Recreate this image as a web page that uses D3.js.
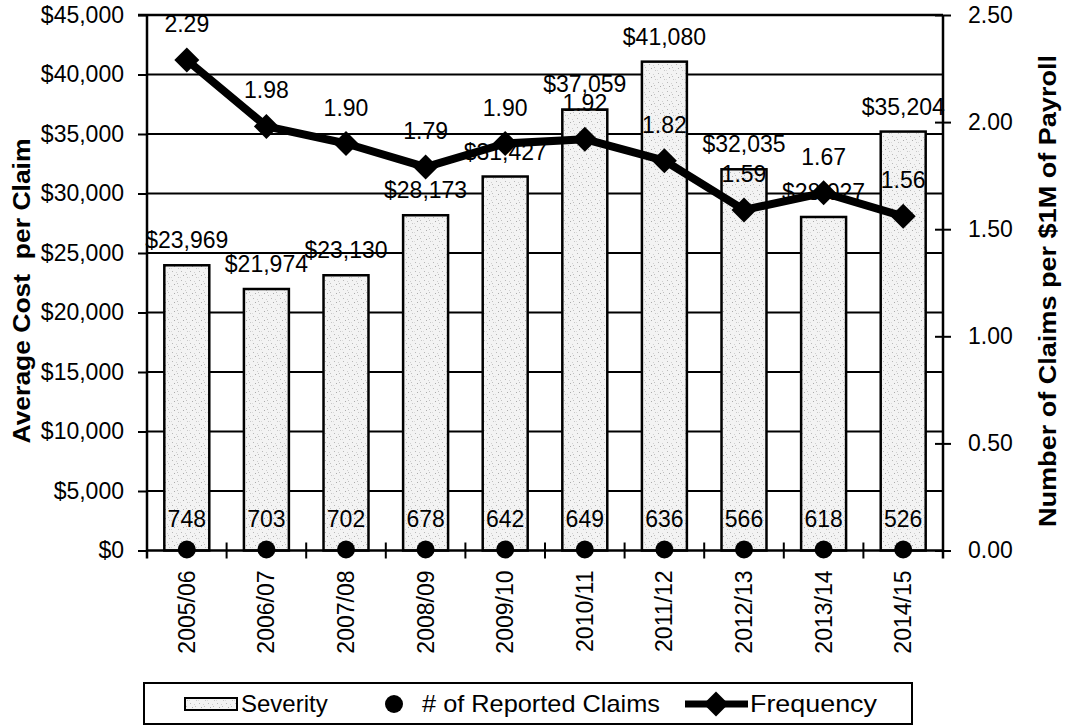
<!DOCTYPE html>
<html>
<head>
<meta charset="utf-8">
<script src="https://cdn.jsdelivr.net/npm/d3@7"></script>
<style>
  body { margin: 0; background: #fff; }
  svg { display: block; }
  text { font-family: "Liberation Sans", Arial, Helvetica, sans-serif; fill: #000; }
</style>
</head>
<body>
<svg id="chart" width="1065" height="727"></svg>
<script>
// Fiscal years and series
const years = ["2005/06", "2006/07", "2007/08", "2008/09", "2009/10",
               "2010/11", "2011/12", "2012/13", "2013/14", "2014/15"];
const severity = [23969, 21974, 23130, 28173, 31427, 37059, 41080, 32035, 28027, 35204];
const claims = [748, 703, 702, 678, 642, 649, 636, 566, 618, 526];
const frequency = [2.29, 1.98, 1.90, 1.79, 1.90, 1.92, 1.82, 1.59, 1.67, 1.56];

// Axis tick values
const costTicks = [0, 5000, 10000, 15000, 20000, 25000, 30000, 35000, 40000, 45000];
const rateTicks = [0, 0.5, 1.0, 1.5, 2.0, 2.5];

const legendItems = ["Severity", "# of Reported Claims", "Frequency"];

const svg = d3.select("#chart");
const W = 1065, H = 727;
const plot = { left: 147, right: 943, top: 15, bottom: 550.5 };
const FS = 23;
const LFS = 24;

svg.append("rect").attr("width", W).attr("height", H).attr("fill", "#fff");

// Stippled fill for the severity bars
const defs = svg.append("defs");
const pat = defs.append("pattern").attr("id", "stipple")
  .attr("patternUnits", "userSpaceOnUse").attr("width", 9).attr("height", 9);
pat.append("rect").attr("width", 9).attr("height", 9).attr("fill", "#f3f3f3");
[[1, 1, "#b8b8b8"], [5, 2, "#d0d0d0"], [3, 5, "#ababab"], [7, 7, "#c6c6c6"], [0, 7, "#dadada"], [6, 4, "#c0c0c0"]]
  .forEach(([a, b, c]) => pat.append("rect").attr("x", a).attr("y", b)
    .attr("width", 1).attr("height", 1).attr("fill", c));

// Scales
const x = d3.scaleBand().domain(years)
  .range([plot.left, plot.right]).paddingInner(0.435).paddingOuter(0.2175);
const yCost = d3.scaleLinear().domain([0, 45000]).range([plot.bottom, plot.top]);
const yRate = d3.scaleLinear().domain([0, 2.5]).range([plot.bottom, plot.top]);
const cx = d => x(d) + x.bandwidth() / 2;
const money = v => "$" + d3.format(",")(v);

// Horizontal gridlines
svg.append("g").selectAll("line").data(costTicks.filter(t => t > 0)).join("line")
  .attr("x1", plot.left).attr("x2", plot.right)
  .attr("y1", d => yCost(d)).attr("y2", d => yCost(d))
  .attr("stroke", "#000").attr("stroke-width", 2);

// Severity bars
svg.append("g").selectAll("rect").data(years).join("rect")
  .attr("x", d => x(d)).attr("width", x.bandwidth())
  .attr("y", (d, i) => yCost(severity[i]))
  .attr("height", (d, i) => yCost(0) - yCost(severity[i]))
  .attr("fill", "url(#stipple)").attr("stroke", "#000").attr("stroke-width", 2.5);

// Left axis
const gL = svg.append("g").attr("transform", `translate(${plot.left},0)`)
  .call(d3.axisLeft(yCost).tickValues(costTicks).tickFormat(money)
    .tickSize(9).tickSizeOuter(0).tickPadding(14));
gL.select(".domain").remove();
gL.selectAll(".tick line").attr("stroke", "#000").attr("stroke-width", 2);
gL.selectAll(".tick text").style("font-size", FS + "px").attr("fill", "#000");

// Right axis
const gR = svg.append("g").attr("transform", `translate(${plot.right},0)`)
  .call(d3.axisRight(yRate).tickValues(rateTicks).tickFormat(d3.format(".2f"))
    .tickSize(8).tickSizeOuter(0).tickPadding(17));
gR.select(".domain").remove();
gR.selectAll(".tick line").attr("x1", -8).attr("x2", 8)
  .attr("stroke", "#000").attr("stroke-width", 2);
gR.selectAll(".tick text").style("font-size", FS + "px").attr("fill", "#000");

// Bottom axis
const gB = svg.append("g").attr("transform", `translate(0,${plot.bottom})`)
  .call(d3.axisBottom(x).tickSize(0).tickSizeOuter(0).tickPadding(0));
gB.select(".domain").remove();
gB.selectAll(".tick text")
  .style("font-size", FS + "px").attr("fill", "#000")
  .attr("text-anchor", "end")
  .attr("transform", "translate(0,20) rotate(-90)")
  .attr("x", 0).attr("y", 0).attr("dy", "0.35em");

// Category separator ticks
svg.append("g").selectAll("line").data(years.slice(1)).join("line")
  .attr("x1", d => x(d) - x.step() * x.paddingInner() / 2)
  .attr("x2", d => x(d) - x.step() * x.paddingInner() / 2)
  .attr("y1", plot.bottom - 8).attr("y2", plot.bottom + 8)
  .attr("stroke", "#000").attr("stroke-width", 2);

// Axis frame lines
const frame = svg.append("g").attr("stroke", "#000").attr("stroke-width", 2.5);
frame.append("line").attr("x1", plot.left - 9).attr("x2", plot.right)
  .attr("y1", plot.top).attr("y2", plot.top);
frame.append("line").attr("x1", plot.left).attr("x2", plot.right)
  .attr("y1", plot.bottom).attr("y2", plot.bottom);
frame.append("line").attr("x1", plot.left).attr("x2", plot.left)
  .attr("y1", plot.top).attr("y2", plot.bottom + 8);
frame.append("line").attr("x1", plot.right).attr("x2", plot.right)
  .attr("y1", plot.top).attr("y2", plot.bottom + 8);

// Severity labels
svg.append("g").selectAll("text").data(years).join("text")
  .attr("x", d => cx(d)).attr("y", (d, i) => yCost(severity[i]) - 17)
  .attr("text-anchor", "middle").style("font-size", FS + "px")
  .text((d, i) => money(severity[i]));

// Frequency line with diamond markers
const line = d3.line().x((d, i) => cx(years[i])).y(d => yRate(d));
svg.append("path").datum(frequency).attr("d", line)
  .attr("fill", "none").attr("stroke", "#000").attr("stroke-width", 8)
  .attr("stroke-linejoin", "round");
const diamond = "M0,-12.5L12.5,0L0,12.5L-12.5,0Z";
svg.append("g").selectAll("path").data(frequency).join("path")
  .attr("transform", (d, i) => `translate(${cx(years[i])},${yRate(d)})`)
  .attr("d", diamond).attr("fill", "#000");

// Frequency labels
svg.append("g").selectAll("text").data(frequency).join("text")
  .attr("x", (d, i) => cx(years[i])).attr("y", d => yRate(d) - 28)
  .attr("text-anchor", "middle").style("font-size", FS + "px")
  .text(d => d3.format(".2f")(d));

// Reported claims: markers along the baseline with their counts
svg.append("g").selectAll("circle").data(claims).join("circle")
  .attr("cx", (d, i) => cx(years[i])).attr("cy", plot.bottom - 1)
  .attr("r", 9).attr("fill", "#000");
svg.append("g").selectAll("text").data(claims).join("text")
  .attr("x", (d, i) => cx(years[i])).attr("y", plot.bottom - 24)
  .attr("text-anchor", "middle").style("font-size", FS + "px")
  .text(d => d);

// Axis titles
svg.append("text")
  .attr("transform", `translate(22,291) rotate(-90)`)
  .attr("text-anchor", "middle").attr("dy", "0.35em")
  .style("font-size", "24px").style("font-weight", "bold").style("white-space", "pre")
  .attr("textLength", 305).attr("lengthAdjust", "spacingAndGlyphs")
  .text("Average Cost  per Claim");
svg.append("text")
  .attr("transform", `translate(1048,291) rotate(-90)`)
  .attr("text-anchor", "middle").attr("dy", "0.35em")
  .style("font-size", "24px").style("font-weight", "bold")
  .attr("textLength", 472).attr("lengthAdjust", "spacingAndGlyphs")
  .text("Number of Claims per $1M of Payroll");

// Legend
const lg = svg.append("g");
const ly = 704;
lg.append("rect").attr("x", 144).attr("y", 683).attr("width", 768).attr("height", 41)
  .attr("fill", "#fff").attr("stroke", "#000").attr("stroke-width", 2);
lg.append("rect").attr("x", 185).attr("y", ly - 6).attr("width", 52).attr("height", 12)
  .attr("fill", "url(#stipple)").attr("stroke", "#000").attr("stroke-width", 2);
lg.append("text").attr("x", 241).attr("y", ly).attr("dy", "0.35em")
  .style("font-size", LFS + "px").text(legendItems[0]);
lg.append("circle").attr("cx", 394).attr("cy", ly).attr("r", 9).attr("fill", "#000");
lg.append("text").attr("x", 422).attr("y", ly).attr("dy", "0.35em")
  .style("font-size", LFS + "px").attr("textLength", 238).attr("lengthAdjust", "spacingAndGlyphs")
  .text(legendItems[1]);
lg.append("line").attr("x1", 685).attr("x2", 748).attr("y1", ly).attr("y2", ly)
  .attr("stroke", "#000").attr("stroke-width", 7);
lg.append("path").attr("transform", `translate(716,${ly})`).attr("d", diamond).attr("fill", "#000");
lg.append("text").attr("x", 750).attr("y", ly).attr("dy", "0.35em")
  .style("font-size", LFS + "px").attr("textLength", 127).attr("lengthAdjust", "spacingAndGlyphs")
  .text(legendItems[2]);
</script>
</body>
</html>
